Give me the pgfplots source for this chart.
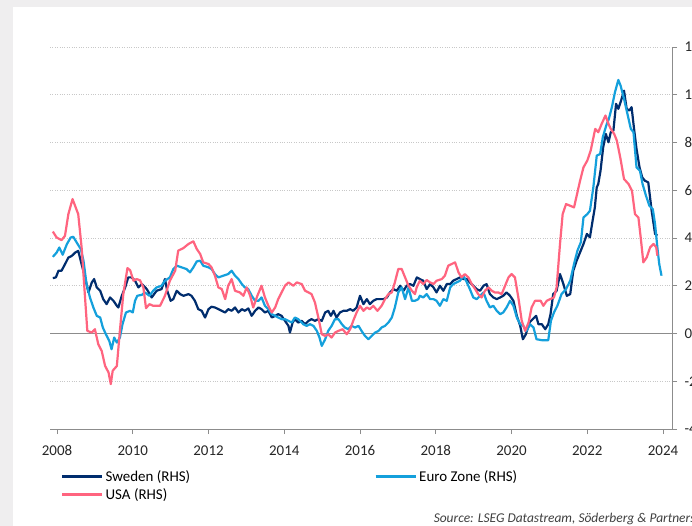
\documentclass[border=0pt]{standalone}
\usepackage{pgfplots}
\pgfplotsset{compat=1.18}
\usepackage{pgfplotstable}
\usepackage{fontspec}
\setmainfont{Carlito}

\definecolor{sweden}{HTML}{002D6E}
\definecolor{euro}{HTML}{14A0DC}
\definecolor{usa}{HTML}{FF647F}
\definecolor{axisgray}{HTML}{8C8C8C}
\definecolor{gridgray}{HTML}{C8C8C8}
\definecolor{bggray}{HTML}{EFEEEF}

% inflation, % y/y
\pgfplotstableread{
year val
2007.89 2.32
2007.97 2.35
2008.04 2.63
2008.12 2.63
2008.21 2.90
2008.30 3.18
2008.39 3.25
2008.48 3.39
2008.56 3.46
2008.65 2.90
2008.74 2.35
2008.83 1.72
2008.92 2.14
2008.98 2.28
2009.05 1.93
2009.14 1.79
2009.22 1.44
2009.31 1.23
2009.40 1.51
2009.49 1.37
2009.58 1.16
2009.62 1.09
2009.71 1.58
2009.80 1.93
2009.88 2.35
2009.97 2.35
2010.06 2.21
2010.15 1.93
2010.24 2.07
2010.37 1.86
2010.50 1.51
2010.63 1.79
2010.76 1.86
2010.85 2.28
2010.91 1.79
2011.00 1.37
2011.07 1.44
2011.16 1.79
2011.25 1.65
2011.34 1.58
2011.47 1.65
2011.55 1.58
2011.64 1.37
2011.73 1.02
2011.82 0.95
2011.91 0.67
2012.00 1.02
2012.08 1.12
2012.17 1.09
2012.26 1.02
2012.35 0.95
2012.44 0.88
2012.52 1.02
2012.61 0.95
2012.70 1.09
2012.79 0.88
2012.88 1.02
2012.96 0.95
2013.05 1.05
2013.14 0.74
2013.23 0.95
2013.32 1.09
2013.40 1.02
2013.49 0.88
2013.58 0.95
2013.67 0.67
2013.76 0.74
2013.84 0.81
2013.93 0.74
2014.02 0.53
2014.11 0.32
2014.15 0.04
2014.22 0.46
2014.28 0.60
2014.37 0.46
2014.46 0.53
2014.55 0.39
2014.64 0.53
2014.72 0.60
2014.81 0.53
2014.90 0.60
2014.99 0.53
2015.08 0.88
2015.16 0.95
2015.23 0.74
2015.30 0.95
2015.38 0.67
2015.47 0.88
2015.56 0.95
2015.65 0.95
2015.74 1.02
2015.82 0.95
2015.91 1.09
2016.00 1.58
2016.09 1.23
2016.18 1.44
2016.26 1.23
2016.35 1.37
2016.44 1.44
2016.53 1.44
2016.62 1.44
2016.71 1.51
2016.79 1.72
2016.88 1.86
2016.97 1.79
2017.06 2.00
2017.15 1.79
2017.23 2.00
2017.32 2.07
2017.41 2.00
2017.50 2.35
2017.58 2.28
2017.67 2.21
2017.76 1.86
2017.85 2.07
2017.94 1.93
2018.02 1.72
2018.11 2.00
2018.20 1.79
2018.29 2.07
2018.38 2.07
2018.46 2.21
2018.55 2.28
2018.64 2.35
2018.73 2.28
2018.82 2.28
2018.90 2.14
2018.99 2.00
2019.08 1.86
2019.17 1.79
2019.26 2.00
2019.34 2.07
2019.43 1.65
2019.52 1.51
2019.61 1.44
2019.70 1.51
2019.78 1.58
2019.87 1.72
2019.96 1.58
2020.05 1.37
2020.14 0.74
2020.23 0.32
2020.30 -0.24
2020.38 -0.03
2020.47 0.46
2020.56 0.60
2020.65 0.74
2020.71 0.39
2020.80 0.39
2020.89 0.18
2020.97 0.39
2021.03 0.81
2021.10 1.65
2021.19 1.79
2021.28 2.49
2021.37 2.07
2021.46 1.58
2021.55 1.65
2021.63 2.63
2021.72 3.05
2021.81 3.40
2021.90 3.75
2021.99 4.17
2022.07 4.03
2022.14 4.72
2022.20 5.28
2022.25 6.12
2022.29 6.26
2022.35 6.82
2022.42 7.80
2022.49 8.36
2022.56 8.01
2022.62 8.43
2022.69 8.50
2022.76 9.62
2022.82 9.41
2022.88 9.69
2022.97 10.17
2023.04 9.41
2023.11 9.34
2023.17 9.48
2023.23 8.64
2023.30 7.73
2023.38 6.96
2023.45 6.54
2023.52 6.40
2023.61 6.33
2023.70 5.14
2023.79 4.17
2023.85 4.10
}\sweden

\pgfplotstableread{
year val
2007.89 3.21
2007.99 3.39
2008.06 3.60
2008.15 3.30
2008.26 3.74
2008.36 4.02
2008.43 4.05
2008.52 3.81
2008.63 3.53
2008.70 3.04
2008.78 2.07
2008.87 1.51
2008.96 1.09
2009.05 0.74
2009.14 0.67
2009.21 0.25
2009.29 -0.03
2009.38 -0.31
2009.44 -0.66
2009.51 -0.17
2009.58 -0.38
2009.66 -0.17
2009.73 0.39
2009.82 0.88
2009.93 0.95
2010.00 0.88
2010.06 1.37
2010.12 1.58
2010.24 1.62
2010.32 1.72
2010.44 1.58
2010.54 1.79
2010.63 1.93
2010.76 2.00
2010.85 2.21
2010.98 2.35
2011.07 2.70
2011.16 2.84
2011.29 2.77
2011.42 2.70
2011.51 2.56
2011.60 2.77
2011.69 3.02
2011.78 3.05
2011.86 2.84
2012.00 2.77
2012.08 2.70
2012.17 2.49
2012.26 2.35
2012.39 2.42
2012.52 2.49
2012.61 2.63
2012.70 2.42
2012.79 2.28
2012.88 2.07
2012.96 1.93
2013.05 1.86
2013.14 1.58
2013.23 1.37
2013.32 1.37
2013.40 1.51
2013.49 1.16
2013.58 1.02
2013.67 0.81
2013.76 0.74
2013.84 0.67
2013.93 0.60
2014.02 0.60
2014.11 0.53
2014.20 0.46
2014.28 0.67
2014.37 0.60
2014.46 0.46
2014.50 0.39
2014.59 0.32
2014.68 0.39
2014.77 0.32
2014.86 0.11
2014.93 -0.17
2014.99 -0.52
2015.08 -0.24
2015.16 0.11
2015.25 0.32
2015.34 0.60
2015.43 0.60
2015.52 0.39
2015.60 0.25
2015.69 0.18
2015.78 0.32
2015.87 0.25
2015.96 0.32
2016.04 0.11
2016.13 -0.10
2016.22 -0.24
2016.31 -0.10
2016.40 0.04
2016.49 0.11
2016.57 0.25
2016.66 0.32
2016.75 0.46
2016.84 0.67
2016.92 1.09
2017.01 1.72
2017.10 1.93
2017.19 1.44
2017.28 1.93
2017.37 1.37
2017.45 1.37
2017.54 1.44
2017.58 1.58
2017.67 1.51
2017.76 1.65
2017.85 1.44
2017.94 1.44
2018.02 1.37
2018.11 1.16
2018.20 1.44
2018.29 1.37
2018.38 1.93
2018.46 2.07
2018.55 2.14
2018.64 2.21
2018.73 2.42
2018.82 2.14
2018.90 1.86
2018.99 1.51
2019.08 1.44
2019.17 1.58
2019.26 1.72
2019.34 1.37
2019.43 1.09
2019.52 1.16
2019.61 0.95
2019.70 0.81
2019.78 0.88
2019.87 1.09
2019.96 1.37
2020.05 1.16
2020.14 0.67
2020.23 0.39
2020.31 0.32
2020.40 0.11
2020.49 0.39
2020.58 0.25
2020.66 -0.24
2020.80 -0.28
2020.97 -0.28
2021.04 0.53
2021.12 0.88
2021.21 1.16
2021.32 1.65
2021.44 1.86
2021.55 2.21
2021.65 2.91
2021.74 3.47
2021.83 3.82
2021.90 4.86
2022.00 5.00
2022.07 5.14
2022.16 6.12
2022.25 7.45
2022.34 7.52
2022.41 8.22
2022.50 8.71
2022.57 8.99
2022.65 9.48
2022.73 10.10
2022.82 10.62
2022.88 10.38
2022.97 9.83
2023.06 9.20
2023.15 8.57
2023.22 8.43
2023.30 6.96
2023.39 6.82
2023.46 6.26
2023.55 5.77
2023.64 5.35
2023.73 5.21
2023.79 4.58
2023.85 3.61
2023.90 2.91
2023.96 2.42
}\euro

\pgfplotstableread{
year val
2007.89 4.27
2007.99 4.02
2008.12 3.91
2008.21 4.09
2008.30 5.00
2008.41 5.63
2008.56 5.00
2008.65 3.60
2008.74 1.51
2008.80 0.11
2008.92 0.04
2009.00 0.18
2009.09 -0.45
2009.18 -0.73
2009.27 -1.36
2009.36 -1.63
2009.42 -2.12
2009.47 -1.56
2009.58 -1.36
2009.66 0.11
2009.75 1.65
2009.86 2.74
2009.93 2.65
2010.02 2.21
2010.10 2.28
2010.19 2.23
2010.28 1.93
2010.35 1.06
2010.44 1.23
2010.54 1.16
2010.72 1.16
2010.85 1.58
2010.98 2.21
2011.12 2.63
2011.20 3.47
2011.34 3.58
2011.47 3.75
2011.60 3.86
2011.69 3.54
2011.78 3.33
2011.86 2.98
2012.00 2.91
2012.08 2.77
2012.17 2.42
2012.26 1.93
2012.35 1.86
2012.44 1.44
2012.52 2.00
2012.61 2.28
2012.70 1.79
2012.83 1.72
2012.92 1.58
2013.01 1.93
2013.10 1.58
2013.18 1.09
2013.29 1.58
2013.40 2.00
2013.49 1.51
2013.58 1.16
2013.67 0.88
2013.76 1.09
2013.84 1.44
2013.93 1.72
2014.02 2.00
2014.11 2.14
2014.24 2.00
2014.33 2.14
2014.46 2.07
2014.55 1.79
2014.64 1.72
2014.72 1.65
2014.81 1.30
2014.90 0.67
2014.99 -0.03
2015.08 -0.10
2015.16 -0.03
2015.25 -0.17
2015.34 0.04
2015.43 0.11
2015.54 0.18
2015.65 -0.03
2015.74 0.18
2015.82 0.53
2015.91 0.88
2016.00 1.16
2016.09 0.95
2016.18 1.09
2016.26 1.02
2016.35 1.16
2016.46 0.95
2016.57 1.16
2016.66 1.44
2016.75 1.65
2016.84 1.72
2016.92 2.14
2017.01 2.70
2017.10 2.70
2017.19 2.35
2017.28 2.00
2017.37 1.79
2017.45 1.65
2017.50 1.95
2017.58 2.21
2017.67 2.07
2017.76 2.24
2017.85 2.14
2017.94 2.07
2018.02 2.21
2018.16 2.28
2018.24 2.42
2018.33 2.84
2018.42 2.91
2018.51 2.98
2018.60 2.56
2018.68 2.35
2018.77 2.49
2018.86 2.35
2018.95 2.07
2019.04 1.86
2019.12 1.65
2019.21 1.51
2019.30 1.79
2019.39 1.93
2019.48 1.79
2019.56 1.72
2019.65 1.72
2019.74 1.65
2019.83 2.00
2019.92 2.35
2020.00 2.49
2020.09 2.35
2020.18 1.51
2020.27 0.53
2020.36 0.11
2020.45 0.46
2020.53 1.09
2020.62 1.37
2020.71 1.37
2020.77 1.37
2020.84 1.16
2020.93 1.37
2021.02 1.44
2021.12 1.51
2021.19 1.93
2021.28 3.75
2021.35 5.00
2021.44 5.42
2021.55 5.35
2021.65 5.28
2021.72 5.77
2021.81 6.40
2021.90 6.96
2022.00 7.24
2022.09 7.66
2022.21 8.57
2022.29 8.43
2022.38 8.78
2022.48 9.13
2022.56 8.78
2022.62 8.57
2022.71 8.36
2022.78 8.08
2022.87 7.38
2022.97 6.47
2023.09 6.26
2023.18 5.98
2023.26 5.00
2023.35 4.86
2023.41 4.03
2023.48 2.98
2023.57 3.19
2023.66 3.61
2023.75 3.75
2023.82 3.61
2023.85 3.26
}\usa

\begin{document}
\begin{tikzpicture}
\useasboundingbox (0bp,0bp) rectangle (692bp,526bp);
\fill[bggray] (0bp,0bp) rectangle (692bp,526bp);
\fill[white] (13bp,0bp) rectangle (692bp,519bp);
\begin{axis}[
  at={(50bp,97bp)}, anchor=south west,
  scale only axis, width=622bp, height=382bp,
  xmin=2007.815, xmax=2024.237,
  ymin=-4, ymax=12,
  axis x line*=bottom, axis y line*=right,
  axis line style={axisgray, line width=0.9bp},
  xtick={2008,2010,...,2024},
  ytick={-4,-2,...,12},
  xticklabel={\pgfmathprintnumber[set thousands separator={}]{\tick}},
  tick align=outside,
  major tick length=5bp,
  tick style={axisgray, line width=0.9bp},
  ymajorgrids,
  grid style={gridgray, dotted, line width=0.8bp},
  extra y ticks={0},
  extra y tick labels={},
  extra y tick style={grid style={solid, axisgray, line width=1.4bp}, major tick length=0pt},
  ticklabel style={font=\fontsize{15}{18}\selectfont, text=black!85},
  /pgf/number format/assume math mode=true,
  xticklabel style={yshift=-8bp},
  yticklabel style={xshift=4bp},
  legend columns=2,
  legend cell align=left,
  legend style={at={(axis description cs:0.012,-0.098)}, anchor=north west,
    draw=none, fill=none, font=\fontsize{15}{18}\selectfont,
    row sep=1.5bp,
    /tikz/every even column/.append style={column sep=182bp}},
  legend image code/.code={\draw[#1, line width=3bp] (0bp,0bp) -- (40bp,0bp);},
  line join=round,
]
\addplot[sweden, line width=2.2bp] table[x=year, y=val] {\sweden};
\addlegendentry{Sweden (RHS)}
\addplot[euro, line width=2.2bp] table[x=year, y=val] {\euro};
\addlegendentry{Euro Zone (RHS)}
\addplot[usa, line width=2.2bp] table[x=year, y=val] {\usa};
\addlegendentry{USA (RHS)}
\end{axis}
\node[anchor=east, font=\fontsize{13.5}{15}\itshape, text=black!75] at (699bp,7bp)
  {Source: LSEG Datastream, Söderberg \& Partners};
\end{tikzpicture}
\end{document}
